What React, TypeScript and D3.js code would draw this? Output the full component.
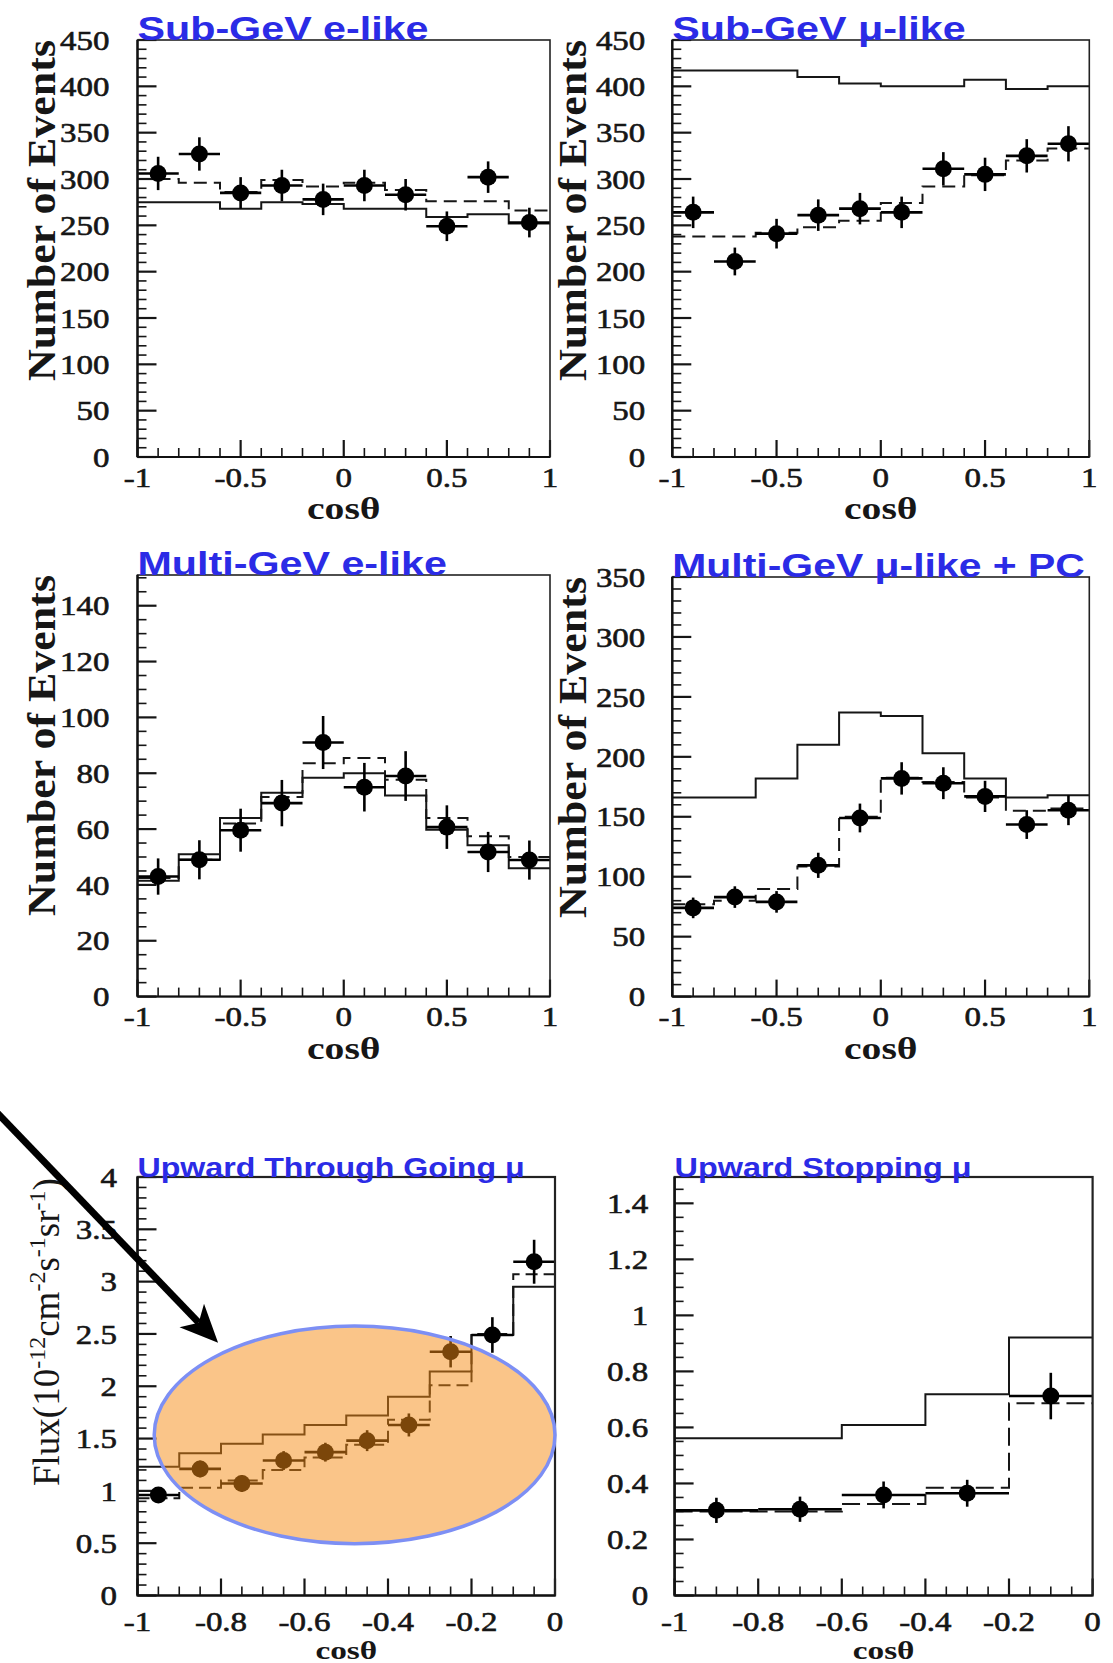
import React from "react";
import * as d3 from "d3";

// ---- bin centres (cos of zenith angle) ----
const cosBins10 = [-0.9, -0.7, -0.5, -0.3, -0.1, 0.1, 0.3, 0.5, 0.7, 0.9];
const upBins10 = [-0.95, -0.85, -0.75, -0.65, -0.55, -0.45, -0.35, -0.25, -0.15, -0.05];
const upBins5 = [-0.9, -0.7, -0.5, -0.3, -0.1];

// ---- Sub-GeV e-like ----
const subEData = [306, 327, 285, 293, 278, 293, 283, 249, 302, 253];
const subEErr = [18, 18, 17, 17, 17, 17, 17, 16, 17, 16];
const subENoOsc = [275, 275, 268, 275, 273, 268, 268, 259, 262, 252];
const subEOsc = [300, 296, 286, 299, 292, 296, 288, 276, 276, 266];

// ---- Sub-GeV mu-like ----
const subMuData = [264, 211, 241, 261, 268, 264, 311, 305, 325, 338];
const subMuErr = [17, 15, 16, 17, 17, 17, 18, 18, 18, 19];
const subMuNoOsc = [417, 417, 417, 410, 403, 400, 400, 407, 397, 400];
const subMuOsc = [238, 238, 242, 248, 255, 274, 292, 304, 320, 333];

// ---- Multi-GeV e-like ----
const multiEData = [43, 49, 59.6, 69.3, 91, 75, 79, 60.7, 51.8, 48.9];
const multiEErr = [6.5, 7, 7.7, 8.3, 9.5, 8.7, 8.9, 7.8, 7.2, 7];
const multiENoOsc = [41.5, 51, 64, 73, 78.4, 80, 72, 59.8, 54.2, 46];
const multiEOsc = [42.5, 49, 62, 71.5, 83.6, 85.5, 77.7, 64, 57.4, 50];

// ---- Multi-GeV mu-like + PC ----
const multiMuData = [74, 83, 79, 109.5, 149, 182, 178, 167, 143.5, 155.5];
const multiMuErr = [8.6, 9, 9, 10.5, 12, 13.5, 13.3, 13, 12, 12.5];
const multiMuNoOsc = [166, 166, 182, 210, 237, 234, 203, 182, 166, 168];
const multiMuOsc = [77, 80, 89.7, 108.6, 150, 182.5, 179, 166, 155, 157];

// ---- Upward through-going mu (flux, 1e-13 cm^-2 s^-1 sr^-1) ----
const upThruData = [0.96, 1.21, 1.07, 1.29, 1.37, 1.48, 1.63, 2.33, 2.49, 3.19];
const upThruErr = [0.07, 0.08, 0.08, 0.09, 0.09, 0.1, 0.11, 0.15, 0.17, 0.21];
const upThruNoOsc = [1.23, 1.36, 1.45, 1.54, 1.63, 1.72, 1.9, 2.14, 2.49, 2.95];
const upThruOsc = [0.93, 1.03, 1.1, 1.2, 1.32, 1.44, 1.68, 2.01, 2.5, 3.07];

// ---- Upward stopping mu ----
const upStopData = [0.304, 0.308, 0.359, 0.365, 0.712];
const upStopErr = [0.045, 0.045, 0.048, 0.048, 0.083];
const upStopNoOsc = [0.561, 0.561, 0.609, 0.718, 0.921];
const upStopOsc = [0.3, 0.3, 0.327, 0.385, 0.686];

// ---- tick labels ----
const fullXTicks = ["-1", "-0.5", "0", "0.5", "1"];
const upXTicks = ["-1", "-0.8", "-0.6", "-0.4", "-0.2", "0"];
const subYTicks = ["0", "50", "100", "150", "200", "250", "300", "350", "400", "450"];
const multiEYTicks = ["0", "20", "40", "60", "80", "100", "120", "140"];
const multiMuYTicks = ["0", "50", "100", "150", "200", "250", "300", "350"];
const upThruYTicks = ["0", "0.5", "1", "1.5", "2", "2.5", "3", "3.5", "4"];
const upStopYTicks = ["0", "0.2", "0.4", "0.6", "0.8", "1", "1.2", "1.4"];

// highlighted region on the through-going panel (data coordinates)
const highlightCentre = [-0.48, 1.535];
const highlightRadii = [0.48, 1.04];
const arrowFrom = [-1.345, 4.65];
const arrowTo = [-0.807, 2.415];

const SERIF = "'Liberation Serif','Times New Roman',serif";
const SANS = "'Liberation Sans',Arial,sans-serif";
const TITLE_BLUE = "#2b2be6";
const INK = "#161616";

type PanelCfg = {
  title: string;
  titleSize: number;
  titleSx: number;
  left: number;
  right: number;
  top: number;
  bottom: number;
  xDomain: [number, number];
  yMax: number;
  centers: number[];
  binWidth: number;
  data: number[];
  err: number[];
  noOsc: number[];
  osc: number[];
  xTicks: string[];
  yTicks: string[];
  xMinor: number;
  xMajor: number;
  yMinor: number;
  yMajor: number;
  yLabelGap: number;
  xLabelDy: number;
  cosDy: number;
  cosSize: number;
  yTitle: "events" | "flux" | null;
  yTitleX: number;
  dash: string;
};

const panels: PanelCfg[] = [
  {
    title: "Sub-GeV e-like", titleSize: 33, titleSx: 1.25,
    left: 137.5, right: 550, top: 40, bottom: 457, xDomain: [-1, 1], yMax: 450,
    centers: cosBins10, binWidth: 0.2, data: subEData, err: subEErr, noOsc: subENoOsc, osc: subEOsc,
    xTicks: fullXTicks, yTicks: subYTicks, xMinor: 0.1, xMajor: 0.5, yMinor: 10, yMajor: 50,
    yLabelGap: 28, xLabelDy: 30, cosDy: 62, cosSize: 31, yTitle: "events", yTitleX: 55, dash: "13,7",
  },
  {
    title: "Sub-GeV \u03bc-like", titleSize: 33, titleSx: 1.25,
    left: 672.3, right: 1089.3, top: 40, bottom: 457, xDomain: [-1, 1], yMax: 450,
    centers: cosBins10, binWidth: 0.2, data: subMuData, err: subMuErr, noOsc: subMuNoOsc, osc: subMuOsc,
    xTicks: fullXTicks, yTicks: subYTicks, xMinor: 0.1, xMajor: 0.5, yMinor: 10, yMajor: 50,
    yLabelGap: 27, xLabelDy: 30, cosDy: 62, cosSize: 31, yTitle: "events", yTitleX: 585.7, dash: "13,7",
  },
  {
    title: "Multi-GeV e-like", titleSize: 33, titleSx: 1.25,
    left: 137.5, right: 550, top: 575, bottom: 996.6, xDomain: [-1, 1], yMax: 151,
    centers: cosBins10, binWidth: 0.2, data: multiEData, err: multiEErr, noOsc: multiENoOsc, osc: multiEOsc,
    xTicks: fullXTicks, yTicks: multiEYTicks, xMinor: 0.1, xMajor: 0.5, yMinor: 5, yMajor: 20,
    yLabelGap: 28, xLabelDy: 29, cosDy: 62, cosSize: 31, yTitle: "events", yTitleX: 55, dash: "13,7",
  },
  {
    title: "Multi-GeV \u03bc-like + PC", titleSize: 33, titleSx: 1.24,
    left: 672.3, right: 1089.3, top: 577, bottom: 996.6, xDomain: [-1, 1], yMax: 350,
    centers: cosBins10, binWidth: 0.2, data: multiMuData, err: multiMuErr, noOsc: multiMuNoOsc, osc: multiMuOsc,
    xTicks: fullXTicks, yTicks: multiMuYTicks, xMinor: 0.1, xMajor: 0.5, yMinor: 10, yMajor: 50,
    yLabelGap: 27, xLabelDy: 29, cosDy: 62, cosSize: 31, yTitle: "events", yTitleX: 585.7, dash: "13,7",
  },
  {
    title: "Upward Through Going \u03bc", titleSize: 27, titleSx: 1.19,
    left: 137.5, right: 555, top: 1177, bottom: 1595.5, xDomain: [-1, 0], yMax: 4,
    centers: upBins10, binWidth: 0.1, data: upThruData, err: upThruErr, noOsc: upThruNoOsc, osc: upThruOsc,
    xTicks: upXTicks, yTicks: upThruYTicks, xMinor: 0.05, xMajor: 0.2, yMinor: 0.1, yMajor: 0.5,
    yLabelGap: 20.5, xLabelDy: 35, cosDy: 63, cosSize: 26, yTitle: "flux", yTitleX: 59, dash: "12,6",
  },
  {
    title: "Upward Stopping \u03bc", titleSize: 27, titleSx: 1.2,
    left: 674.6, right: 1092.6, top: 1177, bottom: 1595.5, xDomain: [-1, 0], yMax: 1.494,
    centers: upBins5, binWidth: 0.2, data: upStopData, err: upStopErr, noOsc: upStopNoOsc, osc: upStopOsc,
    xTicks: upXTicks, yTicks: upStopYTicks, xMinor: 0.05, xMajor: 0.2, yMinor: 0.05, yMajor: 0.2,
    yLabelGap: 26.5, xLabelDy: 35, cosDy: 63, cosSize: 26, yTitle: null, yTitleX: 0, dash: "18,7",
  },
];

const isMultiple = (v: number, step: number) => Math.abs(v / step - Math.round(v / step)) < 1e-6;

function stepPoints(centers: number[], half: number, vals: number[]): [number, number][] {
  const pts: [number, number][] = [];
  centers.forEach((c, i) => {
    pts.push([c - half, vals[i]]);
    pts.push([c + half, vals[i]]);
  });
  return pts;
}

function Panel({ p, idx }: { p: PanelCfg; idx: number }) {
  const x = d3.scaleLinear().domain(p.xDomain).range([p.left, p.right]);
  const y = d3.scaleLinear().domain([0, p.yMax]).range([p.bottom, p.top]);
  const half = p.binWidth / 2;
  const line = d3
    .line<[number, number]>()
    .x((d) => x(d[0]))
    .y((d) => y(d[1]));

  const yTickVals = d3.range(0, p.yMax + 1e-9, p.yMinor);
  const xTickVals = d3.range(p.xDomain[0], p.xDomain[1] + 1e-9, p.xMinor);

  const tickFont = 27;
  const tickSx = 1.22;

  return (
    <g>
      {/* y ticks */}
      {yTickVals.map((v, i) => {
        const major = isMultiple(v, p.yMajor);
        return (
          <line key={`yt${i}`} x1={p.left} x2={p.left + (major ? 19 : 9)} y1={y(v)} y2={y(v)}
            stroke={INK} strokeWidth={major ? 2.2 : 1.6} />
        );
      })}
      {/* x ticks */}
      {xTickVals.map((v, i) => {
        const major = isMultiple(v, p.xMajor);
        return (
          <line key={`xt${i}`} x1={x(v)} x2={x(v)} y1={p.bottom} y2={p.bottom - (major ? 17 : 9)}
            stroke={INK} strokeWidth={major ? 2.2 : 1.6} />
        );
      })}

      {/* no-oscillation expectation */}
      <path d={line(stepPoints(p.centers, half, p.noOsc)) || ""} fill="none" stroke={INK} strokeWidth={2} />
      {/* best-fit oscillation expectation */}
      <path d={line(stepPoints(p.centers, half, p.osc)) || ""} fill="none" stroke={INK} strokeWidth={2}
        strokeDasharray={p.dash} />

      {/* data points */}
      {p.data.map((v, i) => {
        const c = p.centers[i];
        return (
          <g key={`pt${i}`}>
            <line x1={x(c - half)} x2={x(c + half)} y1={y(v)} y2={y(v)} stroke="#000" strokeWidth={2.6} />
            <line x1={x(c)} x2={x(c)} y1={y(v - p.err[i])} y2={y(v + p.err[i])} stroke="#000" strokeWidth={2.6} />
            <circle cx={x(c)} cy={y(v)} r={8.5} fill="#000" />
          </g>
        );
      })}

      {/* frame */}
      <rect x={p.left} y={p.top} width={p.right - p.left} height={p.bottom - p.top} fill="none"
        stroke="#222" strokeWidth={idx >= 4 ? 2.2 : 1.6} />
      <line x1={p.left} x2={p.left} y1={p.top} y2={p.bottom} stroke="#111" strokeWidth={2.4} />
      <line x1={p.left} x2={p.right} y1={p.bottom} y2={p.bottom} stroke="#111" strokeWidth={2} />

      {/* y tick labels */}
      {p.yTicks.map((t) => (
        <text key={`yl${t}`} transform={`translate(${p.left - p.yLabelGap},${y(+t)}) scale(${tickSx},1)`}
          dy="0.36em" textAnchor="end" fontFamily={SERIF} fontSize={tickFont} fill={INK}
          stroke={INK} strokeWidth={0.6}>
          {t}
        </text>
      ))}
      {/* x tick labels */}
      {p.xTicks.map((t) => (
        <text key={`xl${t}`} transform={`translate(${x(+t)},${p.bottom + p.xLabelDy}) scale(${tickSx},1)`}
          textAnchor="middle" fontFamily={SERIF} fontSize={tickFont} fill={INK}
          stroke={INK} strokeWidth={0.6}>
          {t}
        </text>
      ))}
      {/* x axis title */}
      <text transform={`translate(${(p.left + p.right) / 2},${p.bottom + p.cosDy}) scale(1.28,1)`}
        textAnchor="middle" fontFamily={SERIF} fontWeight="bold" fontSize={p.cosSize} fill={INK}>
        cos{"\u03b8"}
      </text>

      {/* y axis title */}
      {p.yTitle === "events" && (
        <text transform={`translate(${p.yTitleX},${p.top + 341}) rotate(-90)`} textAnchor="start"
          fontFamily={SERIF} fontWeight="bold" fontSize={40} fill={INK} textLength={341}
          lengthAdjust="spacingAndGlyphs">
          Number of Events
        </text>
      )}
      {p.yTitle === "flux" && (
        <text transform={`translate(${p.yTitleX},${p.top + 309}) rotate(-90)`} textAnchor="start"
          fontFamily={SERIF} fontSize={37} fill={INK}>
          <tspan>Flux(10</tspan>
          <tspan fontSize={24} dy={-14}>-12</tspan>
          <tspan dy={14}>cm</tspan>
          <tspan fontSize={24} dy={-14}>-2</tspan>
          <tspan dy={14}>s</tspan>
          <tspan fontSize={24} dy={-14}>-1</tspan>
          <tspan dy={14}>sr</tspan>
          <tspan fontSize={24} dy={-14}>-1</tspan>
          <tspan dy={14}>)</tspan>
        </text>
      )}

      {/* panel title */}
      <text transform={`translate(${p.left},${p.top}) scale(${p.titleSx},1)`} textAnchor="start"
        fontFamily={SANS} fontWeight="bold" fontSize={p.titleSize} fill={TITLE_BLUE}>
        {p.title}
      </text>
    </g>
  );
}

function Highlight({ p }: { p: PanelCfg }) {
  const x = d3.scaleLinear().domain(p.xDomain).range([p.left, p.right]);
  const y = d3.scaleLinear().domain([0, p.yMax]).range([p.bottom, p.top]);
  const cx = x(highlightCentre[0]);
  const cy = y(highlightCentre[1]);
  const rx = x(highlightCentre[0] + highlightRadii[0]) - cx;
  const ry = cy - y(highlightCentre[1] + highlightRadii[1]);

  const sx = x(arrowFrom[0]);
  const sy = y(arrowFrom[1]);
  const tx = x(arrowTo[0]);
  const ty = y(arrowTo[1]);
  const len = Math.hypot(tx - sx, ty - sy);
  const ux = (tx - sx) / len;
  const uy = (ty - sy) / len;
  const nx = -uy;
  const ny = ux;
  const headLen = 38;
  const headHalf = 17;
  const bx = tx - headLen * ux;
  const by = ty - headLen * uy;
  const notchX = tx - 28 * ux;
  const notchY = ty - 28 * uy;
  const head = [
    [tx, ty],
    [bx + headHalf * nx, by + headHalf * ny],
    [notchX, notchY],
    [bx - headHalf * nx, by - headHalf * ny],
  ]
    .map((d) => d.join(","))
    .join(" ");

  return (
    <g>
      <ellipse cx={cx} cy={cy} rx={rx} ry={ry} fill="#f58c14" fillOpacity={0.5} />
      <ellipse cx={cx} cy={cy} rx={rx} ry={ry} fill="none" stroke="#7d8ff4" strokeWidth={3.5} />
      <line x1={sx} y1={sy} x2={notchX} y2={notchY} stroke="#000" strokeWidth={7} />
      <polygon points={head} fill="#000" />
    </g>
  );
}

export default function App() {
  return (
    <div style={{ position: "absolute", left: 0, top: 0 }}>
      <svg width={1113} height={1663} viewBox="0 0 1113 1663" style={{ display: "block", background: "#fff" }}>
        <rect x={0} y={0} width={1113} height={1663} fill="#fff" />
        {panels.map((p, i) => (
          <Panel key={p.title} p={p} idx={i} />
        ))}
        <Highlight p={panels[4]} />
      </svg>
    </div>
  );
}
